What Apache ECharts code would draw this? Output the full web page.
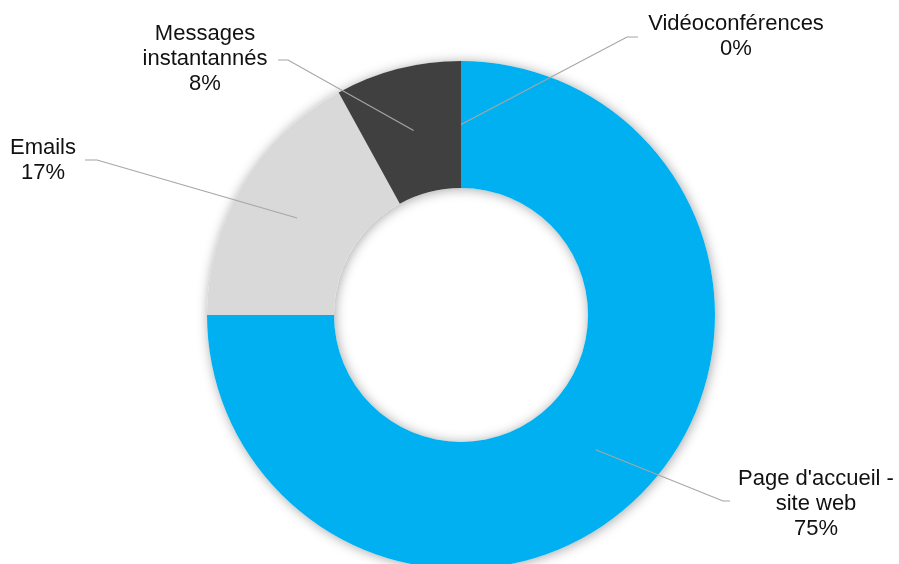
<!DOCTYPE html>
<html>
<head>
<meta charset="utf-8">
<script src="https://cdn.jsdelivr.net/npm/echarts@6/dist/echarts.min.js"></script>
<style>
  html, body { margin: 0; padding: 0; background: #ffffff; }
  #chart { width: 899px; height: 564px; }
</style>
</head>
<body>
<div id="chart"></div>
<script>
// Channel shares, clockwise from 12 o'clock
const categories = ["Page d'accueil -\nsite web", 'Emails', 'Messages\ninstantannés', 'Vidéoconférences'];
const shares = [75, 17, 8, 0];
const sliceColors = ['#00B0F0', '#D9D9D9', '#404040', '#7F7F7F'];

// Where each callout sits: text centre, line knee and line end (px)
const calloutText = [[816, 504], [43, 160], [205, 59], [736, 36]];
const calloutKnee = [[723, 501], [97, 160], [288, 60], [627, 37]];
const calloutEnd  = [[730, 501], [85, 160], [278, 60], [638, 37]];

const CENTER = [461, 315];
const R_INNER = 127;
const R_OUTER = 254;
const R_LEADER = (R_INNER + R_OUTER) / 2;

const sliceData = categories.map(function (name, i) {
  return { name: name, value: shares[i], itemStyle: { color: sliceColors[i] } };
});

const chart = echarts.init(document.getElementById('chart'), null, { renderer: 'canvas' });

chart.setOption({
  backgroundColor: '#ffffff',
  animation: false,
  series: [
    {
      // soft drop shadow under the whole ring
      type: 'pie',
      silent: true,
      z: 1,
      center: CENTER,
      radius: [R_INNER, R_OUTER],
      label: { show: false },
      labelLine: { show: false },
      itemStyle: {
        color: '#ffffff',
        shadowBlur: 12,
        shadowColor: 'rgba(0,0,0,0.35)',
        shadowOffsetX: 1,
        shadowOffsetY: 1
      },
      data: [{ value: 1 }]
    },
    {
      // the coloured ring
      type: 'pie',
      silent: true,
      z: 2,
      center: CENTER,
      radius: [R_INNER, R_OUTER],
      startAngle: 90,
      clockwise: true,
      itemStyle: { borderWidth: 0 },
      label: { show: false },
      labelLine: { show: false },
      data: sliceData
    },
    {
      // callouts, drawn on top of the ring
      type: 'pie',
      silent: true,
      z: 5,
      center: CENTER,
      radius: [R_INNER, R_OUTER],
      startAngle: 90,
      clockwise: true,
      avoidLabelOverlap: false,
      itemStyle: { color: 'rgba(0,0,0,0)', borderWidth: 0 },
      label: {
        show: true,
        position: 'outside',
        formatter: '{b}\n{d}%',
        fontFamily: '"Liberation Sans", Arial, Helvetica, sans-serif',
        fontSize: 22,
        lineHeight: 25,
        color: '#111111',
        align: 'center'
      },
      labelLine: {
        show: true,
        length: 20,
        length2: 10,
        lineStyle: { color: '#A6A6A6', width: 1.2 }
      },
      labelLayout: function (p) {
        const i = p.dataIndex;
        const p0 = p.labelLinePoints ? p.labelLinePoints[0] : CENTER;
        let dx = p0[0] - CENTER[0], dy = p0[1] - CENTER[1];
        const len = Math.sqrt(dx * dx + dy * dy) || 1;
        dx /= len; dy /= len;
        const start = [CENTER[0] + dx * R_LEADER, CENTER[1] + dy * R_LEADER];
        return {
          x: calloutText[i][0],
          y: calloutText[i][1],
          align: 'center',
          verticalAlign: 'middle',
          labelLinePoints: [start, calloutKnee[i], calloutEnd[i]]
        };
      },
      data: categories.map(function (name, i) {
        return { name: name, value: shares[i] };
      })
    }
  ]
});
</script>
</body>
</html>
